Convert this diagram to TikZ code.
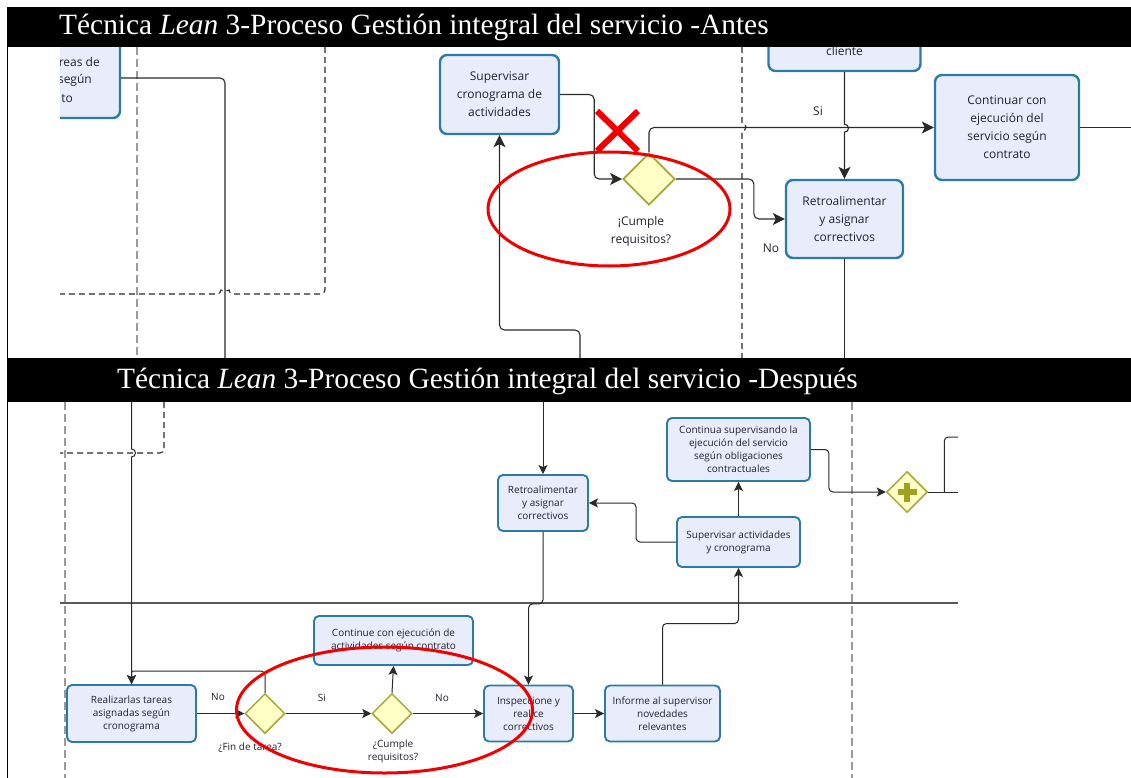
\documentclass[tikz,border=0pt]{standalone}
\usepackage{fontspec}
\setmainfont{Liberation Serif}
\newfontfamily\dfont{Open Sans}
\usetikzlibrary{shapes.geometric,arrows.meta,calc}
\definecolor{boxfill}{HTML}{E8ECFB}
\definecolor{boxline}{HTML}{2B7BAA}
\definecolor{gwfill}{HTML}{FFFFC6}
\definecolor{gwline}{HTML}{A6A63A}
\definecolor{plusc}{HTML}{A0A024}
\definecolor{lnc}{HTML}{2A2A2A}
\definecolor{txt}{HTML}{22222E}
\definecolor{lanegray}{HTML}{9A9A9A}
\definecolor{lanesolid}{HTML}{5A5A5A}
\definecolor{markred}{HTML}{F20000}

\begin{document}
\begin{tikzpicture}[x=1pt,y=-1pt,
  boxA/.style={draw=boxline,fill=boxfill,line width=2.4pt,rounded corners=7pt,inner sep=0pt,align=center,text=txt,font=\dfont\fontsize{12}{18}\selectfont},
  boxB/.style={draw=boxline,fill=boxfill,line width=1.9pt,rounded corners=5pt,inner sep=0pt,align=center,text=txt,font=\dfont\fontsize{10}{13}\selectfont},
  gwA/.style={diamond,draw=gwline,fill=gwfill,line width=1.8pt,minimum width=52pt,minimum height=52pt,inner sep=0pt},
  gwB/.style={diamond,draw=gwline,fill=gwfill,line width=1.5pt,minimum width=40pt,minimum height=40pt,inner sep=0pt},
  txtA/.style={text=txt,font=\dfont\fontsize{12}{18}\selectfont,align=center,inner sep=0pt},
  txtB/.style={text=txt,font=\dfont\fontsize{10}{13}\selectfont,align=center,inner sep=0pt},
  connA/.style={draw=lnc,line width=1.1pt,rounded corners=5pt},
  connB/.style={draw=lnc,line width=1pt,rounded corners=4pt},
  tipA/.style={-{Stealth[length=12pt,width=12pt,inset=3pt]}},
  tipB/.style={-{Stealth[length=9pt,width=9pt,inset=2pt]}},
  lanedash/.style={draw=lanegray,line width=1.6pt,dash pattern=on 8pt off 4pt},
  pooldash/.style={draw=lnc,line width=1.1pt,dash pattern=on 6pt off 4pt,rounded corners=4pt},
  lane/.style={draw=lanesolid,line width=1.1pt},
  titletext/.style={text=white,font=\fontsize{29.4}{31}\selectfont,inner sep=0pt,anchor=base west},
  redmark/.style={draw=markred,line width=3pt},
]
\useasboundingbox (0,0) rectangle (1131,778);
\fill[white] (0,0) rectangle (1131,778);

% ---------------- Upper panel: process before ----------------
\begin{scope}
\clip (60,47) rectangle (1131,358);
\draw[lanedash] (137,47) -- (137,358);
\draw[pooldash] (325,47) -- (325,294) -- (229,294) arc[start angle=0,end angle=-180,radius=4] -- (60,294);
\draw[pooldash,sharp corners] (742,47) -- (742,123) arc[start angle=-90,end angle=90,radius=4] -- (742,358);

\node[boxA,minimum width=130pt,minimum height=80pt] (tA) at (55,78) {};
\node[txtA,anchor=east] at (100,62) {reas de};
\node[txtA,anchor=east] at (92,80) {según};
\node[txtA,anchor=east] at (73,99) {to};

\node[boxA,minimum width=119pt,minimum height=79pt] (supA) at (499.5,94.5) {Supervisar\\cronograma de\\actividades};
\node[gwA] (gateA) at (649,179) {};
\node[txtA] at (641,231) {¡Cumple\\requisitos?};
\node[boxA,minimum width=152pt,minimum height=100pt] (cliA) at (844.5,21) {};
\node[txtA] at (844.5,51) {cliente};
\node[boxA,minimum width=117pt,minimum height=78pt] (retA) at (844.5,219) {Retroalimentar\\y asignar\\correctivos};
\node[boxA,minimum width=144pt,minimum height=105pt] (conA) at (1007,127.5) {Continuar con\\ejecución del\\servicio según\\contrato};

\coordinate (endA1) at (225,358);
\coordinate (endA2) at (580,358);
\coordinate (endA3) at (844.5,358);
\coordinate (endA4) at (1131,127.5);

\draw[connA] (tA.east) -| (endA1);
\draw[connA,tipA] (supA.east) -- ++(34,0) |- (gateA.west);
\draw[connA,tipA] (endA2) -- ++(0,-28) -| (supA.south);
\draw[connA,tipA] (gateA.north) |- (conA.west);
\draw[connA,tipA] (gateA.east) -- ++(78,0) |- (retA.west);
\draw[connA,tipA,sharp corners] (cliA.south) -- ++(0,52) arc[start angle=-90,end angle=90,radius=4] -- (retA.north);
\draw[connA] (retA.south) -- (endA3);
\draw[connA] (conA.east) -- (endA4);

\node[txtA] (siA) at (818,111) {Si};
\node[txtA] (noA) at (771,248) {No};

\draw[redmark] (609,209) ellipse[x radius=121,y radius=57];
\draw[markred,line width=6pt] (597,111) -- (638,151) (638,111) -- (597,151);
\end{scope}

% ---------------- Lower panel: process after ----------------
\begin{scope}
\clip (60,402) rectangle (958,778);
\draw[lane] (60,603) -- (958,603);
\draw[lanedash] (65,402) -- (65,778);
\draw[lanedash] (852,402) -- (852,778);
\draw[pooldash] (164,402) -- (164,453) -- (60,453);

\node[boxB,minimum width=129pt,minimum height=57pt] (reaB) at (131.5,713.5) {Realizarlas tareas\\asignadas según\\cronograma};
\node[gwB] (gate1B) at (265,713.5) {};
\node[txtB] at (250,748) {¿Fin de tarea?};
\node[gwB] (gate2B) at (392,713.5) {};
\node[txtB] at (393,751.5) {¿Cumple\\requisitos?};
\node[boxB,minimum width=159pt,minimum height=49pt] (conB) at (393.5,640.5) {Continue con ejecución de\\actividades según contrato};
\node[boxB,minimum width=89pt,minimum height=56pt] (insB) at (528.5,713.5) {Inspeccione y\\realice\\correctivos};
\node[boxB,minimum width=115pt,minimum height=56pt] (infB) at (662.5,713.5) {Informe al supervisor\\novedades\\relevantes};
\node[boxB,minimum width=90pt,minimum height=56pt] (retB) at (543,503) {Retroalimentar\\y asignar\\correctivos};
\node[boxB,minimum width=123pt,minimum height=50pt] (supB) at (738.5,542) {Supervisar actividades\\y cronograma};
\node[boxB,minimum width=143pt,minimum height=63pt] (cntB) at (738.5,449.5) {Continua supervisando la\\ejecución del servicio\\según obligaciones\\contractuales};
\node[gwB,minimum width=41pt,minimum height=41pt] (parB) at (907,492) {};
\draw[plusc,line width=5.5pt] ($(parB.center)+(-9.5,0)$) -- ($(parB.center)+(9.5,0)$)
                              ($(parB.center)+(0,-9.5)$) -- ($(parB.center)+(0,9.5)$);

\coordinate (startB1) at (131.5,402);
\coordinate (startB2) at (543,402);
\coordinate (endB1) at (958,492);
\coordinate (endB2) at (958,437);

\draw[connB,tipB,sharp corners] (startB1) -- (131.5,449) arc[start angle=-90,end angle=90,radius=4] -- (reaB.north);
\draw[connB,tipB] (gate1B.north) |- ($(reaB.north)+(7,-13)$) .. controls ($(reaB.north)+(0,-13)$) .. (reaB.north);
\draw[connB,tipB] (reaB.east) -- (gate1B.west);
\draw[connB,tipB] (gate1B.east) -- (gate2B.west);
\draw[connB,tipB] (gate2B.north) -- (conB.south);
\draw[connB,tipB] (gate2B.east) -- (insB.west);
\draw[connB,tipB] (insB.east) -- (infB.west);
\draw[connB,tipB] (infB.north) -- ++(0,-61) -| (supB.south);
\draw[connB,tipB] (supB.north) -- (cntB.south);
\draw[connB,tipB] (supB.west) -- ++(-40,0) |- (retB.east);
\draw[connB,tipB] (startB2) -- (retB.north);
\draw[connB,tipB] (retB.south) -- ++(0,72) -| (insB.north);
\draw[connB,tipB] (cntB.east) -- ++(18,0) |- (parB.west);
\draw[connB] (parB.east) -- (endB1);
\draw[connB] ($(parB.east)+(16,0)$) |- (endB2);

\node[txtB] (no1B) at (218,697) {No};
\node[txtB] (siB) at (322,698) {Si};
\node[txtB] (no2B) at (442,698) {No};

\draw[redmark] (384.5,710) ellipse[x radius=148,y radius=63];
\end{scope}

% ---------------- Title bars and frame ----------------
\fill[black] (8,7) rectangle (1131,47);
\node[titletext] (titleA) at (59,35) {Técnica \textit{Lean} 3-Proceso Gestión integral del servicio -Antes};
\fill[black] (8,358) rectangle (1131,402);
\node[titletext] (titleB) at (117,388) {Técnica \textit{Lean} 3-Proceso Gestión integral del servicio -Después};
\draw[black,line width=1.5pt] (7.5,7) -- (7.5,778);
\end{tikzpicture}
\end{document}
